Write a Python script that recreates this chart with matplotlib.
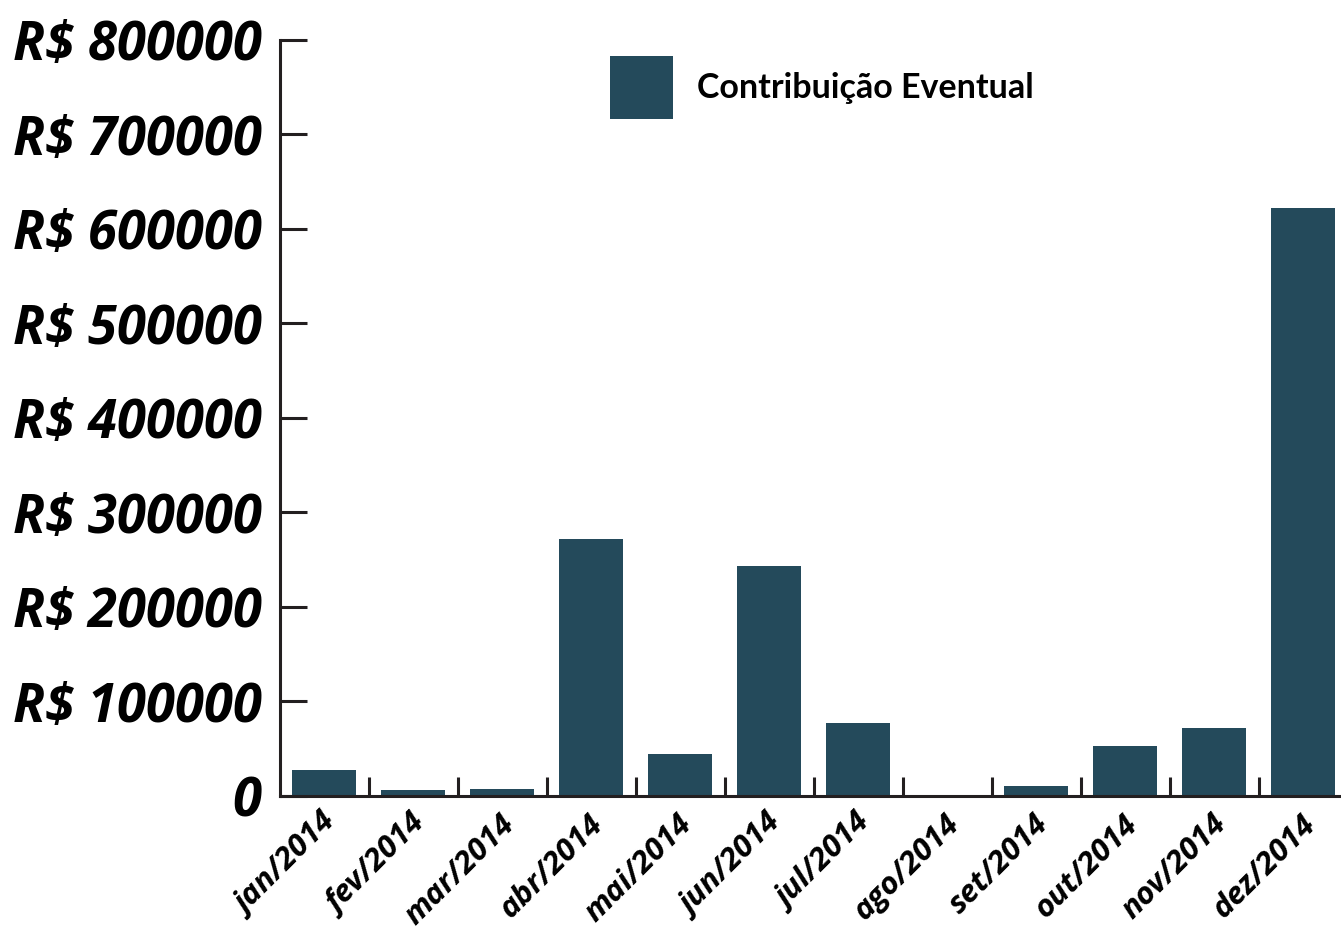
import matplotlib
matplotlib.use("Agg")
import matplotlib.pyplot as plt
import matplotlib.transforms as mtransforms
from matplotlib.ticker import FixedLocator, FuncFormatter

# Contribuições eventuais mês a mês (R$)
meses = ["jan/2014", "fev/2014", "mar/2014", "abr/2014", "mai/2014", "jun/2014",
         "jul/2014", "ago/2014", "set/2014", "out/2014", "nov/2014", "dez/2014"]
valores = [27500, 6300, 7400, 272000, 44500, 243000,
           77000, 1000, 10600, 53000, 72000, 622000]
serie = "Contribuição Eventual"
y_ticks = [0, 100000, 200000, 300000, 400000, 500000, 600000, 700000, 800000]

cor_barra = "#244a5b"
cor_eixo = "#231f20"

fig = plt.figure(figsize=(13.41, 9.27), dpi=100)
ax = fig.add_axes([279.5 / 1341, 131 / 927, 1068 / 1341, 756.5 / 927])

x = range(len(meses))
ax.bar(x, valores, width=0.73, color=cor_barra, label=serie, zorder=2)

ax.set_xlim(-0.5, len(meses) - 0.5)
ax.set_ylim(0, 800000)

for lado in ["top", "right"]:
    ax.spines[lado].set_visible(False)
for lado in ["left", "bottom"]:
    ax.spines[lado].set_linewidth(2.2)
    ax.spines[lado].set_color(cor_eixo)
    ax.spines[lado].set_zorder(3)

# eixo y: traços para dentro, rótulos em reais
ax.set_yticks(y_ticks)
ax.yaxis.set_major_formatter(FuncFormatter(lambda v, p: "0" if v == 0 else f"R$ {int(v)}"))
ax.tick_params(axis="y", direction="in", length=19.5, width=2.2, color=cor_eixo, pad=13)
for t in ax.get_yticklabels():
    t.set_fontfamily("Open Sans")
    t.set_fontweight("bold")
    t.set_fontstyle("italic")
    t.set_fontsize(38)

# eixo x: traços entre as barras, rótulos inclinados
ax.xaxis.set_major_locator(FixedLocator([i + 0.5 for i in range(len(meses) - 1)]))
ax.xaxis.set_major_formatter(FuncFormatter(lambda v, p: ""))
ax.xaxis.set_minor_locator(FixedLocator(list(x)))
ax.set_xticklabels(meses, minor=True)
ax.tick_params(axis="x", which="major", direction="in", length=13.7, width=2.2, color=cor_eixo)
ax.tick_params(axis="x", which="minor", length=0, pad=17)
desloc = mtransforms.ScaledTranslation(8 / 100, 0, fig.dpi_scale_trans)
for t in ax.get_xticklabels(minor=True):
    t.set_rotation(45)
    t.set_ha("right")
    t.set_va("center")
    t.set_rotation_mode("anchor")
    t.set_fontfamily("Open Sans")
    t.set_fontweight("bold")
    t.set_fontstyle("italic")
    t.set_fontsize(22.5)
    t.set_transform(t.get_transform() + desloc)

leg = ax.legend(loc="upper left", bbox_to_anchor=(610 / 1341, 1 - 56 / 927),
                bbox_transform=fig.transFigure, frameon=False, borderpad=0,
                borderaxespad=0, handlelength=1.85, handleheight=2.45,
                handletextpad=0.7, prop={"family": "Lato", "weight": "bold", "size": 24.5})

fig.savefig("out.png", dpi=100)
